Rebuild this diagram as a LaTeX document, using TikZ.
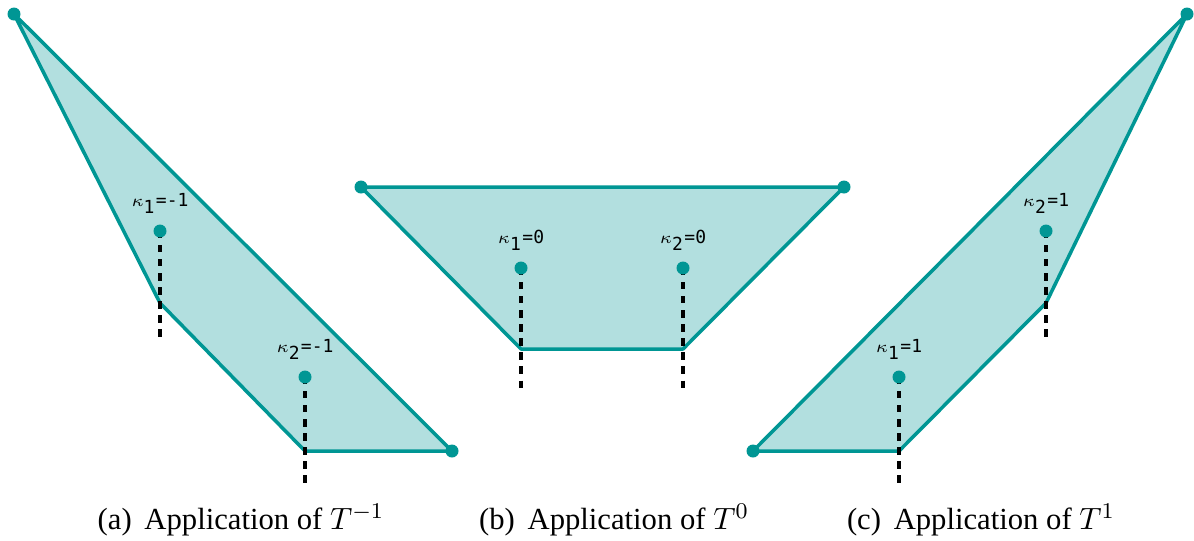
\documentclass[tikz,border=0pt]{standalone}
\usepackage{fontspec}
\setmainfont{Liberation Serif}
\setmonofont{DejaVu Sans Mono}
\usetikzlibrary{calc}
\definecolor{figT}{RGB}{0,150,148}

\begin{document}
\begin{tikzpicture}[x=0.0125cm,y=-0.0125cm,
  cell/.style={draw=figT,fill=figT!30,line width=1.25pt,line join=round},
  cut/.style={black,line width=1.2pt,dash pattern=on 2.6pt off 2.4pt},
  dot/.style={fill=figT},
  klab/.style={font=\fontsize{6.4}{7}\selectfont\ttfamily,above=5pt,inner sep=1pt},
  capt/.style={font=\fontsize{10.9}{13}\selectfont}]
\useasboundingbox (0,0) rectangle (1194,540);
% (a) T^{-1}
\coordinate (a1) at (14,14);
\coordinate (a2) at (160,303);
\coordinate (a3) at (305,451);
\coordinate (a4) at (452,451);
\draw[cell] (a1)--(a2)--(a3)--(a4)--cycle;
\coordinate (ka1) at (160,231);
\coordinate (ka2) at (305,377);
\draw[cut] (ka1)--($(ka1)+(0,110)$);
\draw[cut] (ka2)--($(ka2)+(0,110)$);
\foreach \p in {a1,a4,ka1,ka2} \fill[dot] (\p) circle (6.5);
\node[klab] at (ka1) {$\kappa_{\texttt{1}}$=-1};
\node[klab] at (ka2) {$\kappa_{\texttt{2}}$=-1};
\node[capt] (capa) at (241,520) {(a)\,\ Application of $T^{-1}$};
% (b) T^0
\coordinate (b1) at (361,187);
\coordinate (b2) at (844,187);
\coordinate (b3) at (683,349);
\coordinate (b4) at (521,349);
\draw[cell] (b1)--(b2)--(b3)--(b4)--cycle;
\coordinate (kb1) at (521,268);
\coordinate (kb2) at (683,268);
\draw[cut] (kb1)--($(kb1)+(0,120)$);
\draw[cut] (kb2)--($(kb2)+(0,120)$);
\foreach \p in {b1,b2,kb1,kb2} \fill[dot] (\p) circle (6.5);
\node[klab] at (kb1) {$\kappa_{\texttt{1}}$=0};
\node[klab] at (kb2) {$\kappa_{\texttt{2}}$=0};
\node[capt] (capb) at (614,520) {(b)\,\ Application of $T^{0}$};
% (c) T^1
\coordinate (c1) at (1187,14);
\coordinate (c2) at (1046,303);
\coordinate (c3) at (899,451);
\coordinate (c4) at (753,451);
\draw[cell] (c1)--(c2)--(c3)--(c4)--cycle;
\coordinate (kc1) at (899,377);
\coordinate (kc2) at (1046,231);
\draw[cut] (kc1)--($(kc1)+(0,110)$);
\draw[cut] (kc2)--($(kc2)+(0,110)$);
\foreach \p in {c1,c4,kc1,kc2} \fill[dot] (\p) circle (6.5);
\node[klab] at (kc1) {$\kappa_{\texttt{1}}$=1};
\node[klab] at (kc2) {$\kappa_{\texttt{2}}$=1};
\node[capt] (capc) at (981,520) {(c)\,\ Application of $T^{1}$};
\end{tikzpicture}
\end{document}
